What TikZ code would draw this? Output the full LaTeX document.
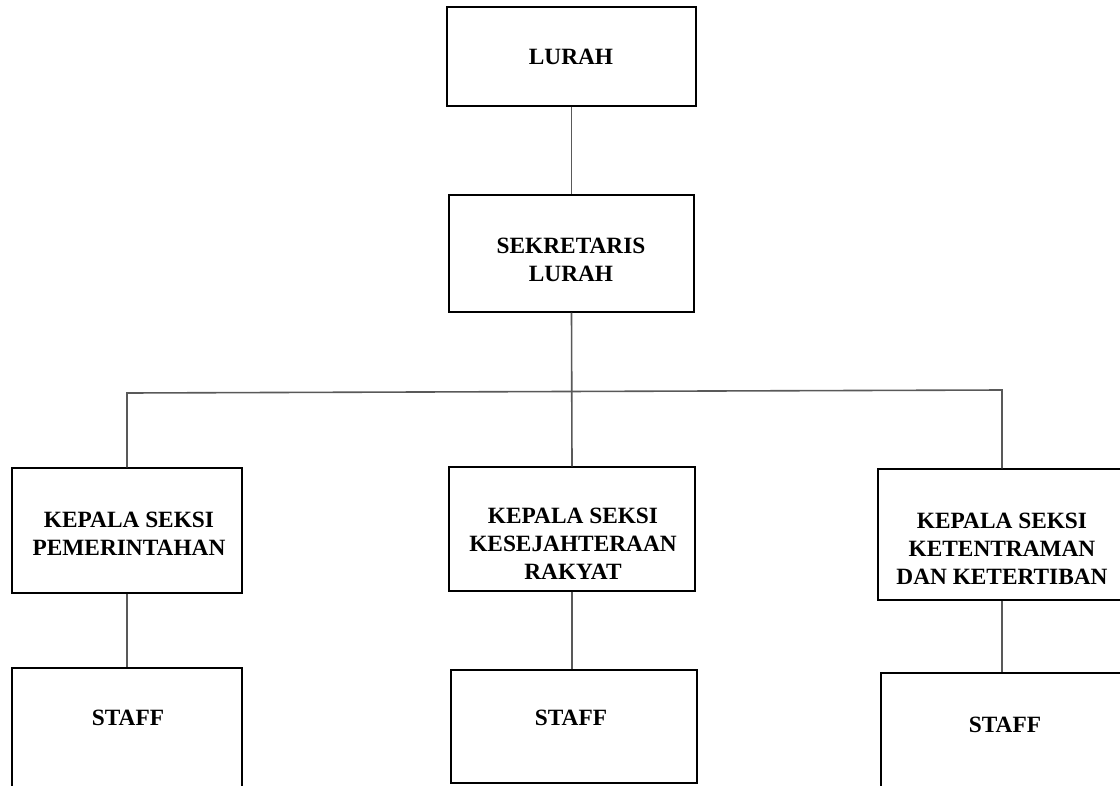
\documentclass[tikz,border=0pt]{standalone}
\usepackage{fontspec}
\setmainfont{Liberation Serif}
\usepackage{tikz}
\usetikzlibrary{positioning,calc}
\tikzstyle{orgbox} = [rectangle,draw=black,line width=1pt,inner sep=0pt]
\tikzstyle{orgtext} = [align=center,inner sep=0pt,font=\bfseries\fontsize{17.5}{21}\selectfont]
\tikzstyle{link} = [draw=black!65,line width=1.2pt]

\begin{document}
\begin{tikzpicture}[x=0.75pt,y=-0.75pt]
        \clip (0,0) rectangle (1120,785);
        % boxes
        \node[orgbox,minimum width=186.75pt,minimum height=74.25pt] (lurah) at (571.5,56.5) {};
        \node[orgbox,minimum width=183.75pt,minimum height=87.75pt] (sekre) at (571.5,253.5) {};
        \node[orgbox,minimum width=172.5pt,minimum height=93.75pt] (kspem) at (127,530.5) {};
        \node[orgbox,minimum width=184.5pt,minimum height=93pt] (kskes) at (572,529) {};
        \node[orgbox,minimum width=186pt,minimum height=98.25pt] (kstib) at (1002,534.5) {};
        \node[orgbox,minimum width=172.5pt,minimum height=91.5pt] (staffpem) at (127,729) {};
        \node[orgbox,minimum width=184.5pt,minimum height=84.75pt] (staffkes) at (574,726.5) {};
        \node[orgbox,minimum width=186pt,minimum height=91.5pt] (stafftib) at (1005,734) {};
        % texts
        \node[orgtext] (lurahtxt) at (571,57) {LURAH};
        \node[orgtext] (sekretxt) at (571,260) {SEKRETARIS\\LURAH};
        \node[orgtext] (kspemtxt) at (129,533.5) {KEPALA SEKSI\\PEMERINTAHAN};
        \node[orgtext] (kskestxt) at (573,543.5) {KEPALA SEKSI\\KESEJAHTERAAN\\RAKYAT};
        \node[orgtext] (kstibtxt) at (1002,548.5) {KEPALA SEKSI\\KETENTRAMAN\\DAN KETERTIBAN};
        \node[orgtext] (staffpemtxt) at (128,718) {STAFF};
        \node[orgtext] (staffkestxt) at (571,718) {STAFF};
        \node[orgtext] (stafftibtxt) at (1005,725) {STAFF};
        % connectors
        \coordinate (busL) at (127,393);
        \coordinate (busR) at (1002,390);
        \path[link] (lurah) edge (sekre);
        \path[link] (sekre.south) edge (kskes.north);
        \draw[link] (kspem.north) -- (kspem.north |- busL) -- (kstib.north |- busR) -- (kstib.north);
        \path[link] (kspem) edge (staffpem);
        \path[link] (kskes.south) edge (kskes.south |- staffkes.north);
        \path[link] (kstib.south) edge (kstib.south |- stafftib.north);
    \end{tikzpicture}
\end{document}
